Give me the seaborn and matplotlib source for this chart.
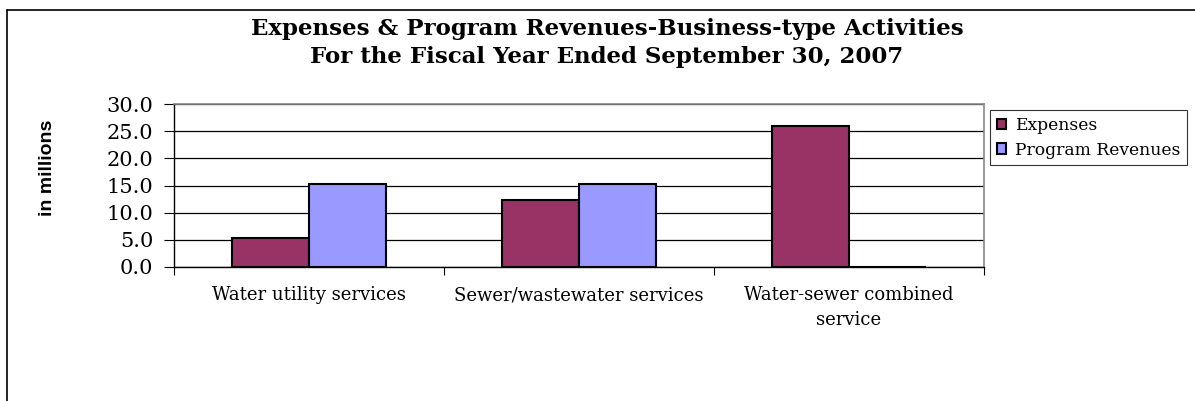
import numpy as np
import pandas as pd
import matplotlib
matplotlib.use("Agg")
import matplotlib.pyplot as plt
import seaborn as sns
from matplotlib.lines import Line2D

categories = ["Water utility services", "Sewer/wastewater services",
              "Water-sewer combined\nservice"]
expenses = [5.3, 12.3, 26.0]
revenues = [15.3, 15.3, 0.0]
series = ["Expenses", "Program Revenues"]
colors = ["#993366", "#9999FF"]

df = pd.DataFrame({
    "category": categories * 2,
    "value": expenses + revenues,
    "series": [series[0]] * 3 + [series[1]] * 3,
})

sns.set_style("white")
plt.rcParams["font.family"] = ["DejaVu Serif"]
plt.rcParams["text.color"] = "black"
plt.rcParams["xtick.color"] = "black"
plt.rcParams["ytick.color"] = "black"

fig = plt.figure(figsize=(11.95, 4.01), dpi=100)
ax = fig.add_axes([174 / 1195, 1 - 267 / 401, (984 - 174) / 1195, (267 - 104) / 401])

sns.barplot(data=df, x="category", y="value", hue="series", order=categories,
            hue_order=series, palette=colors, errorbar=None, width=0.574,
            edgecolor="black", linewidth=1.5, saturation=1, ax=ax, zorder=3)

ax.set_ylim(0, 30)
ax.set_xlim(-0.5, 2.5)
ax.set_yticks(np.arange(0, 31, 5))
ax.yaxis.set_major_formatter(matplotlib.ticker.FormatStrFormatter("%.1f"))
ax.yaxis.grid(True, color="black", linewidth=0.9, zorder=0)
ax.set_axisbelow(True)
ax.tick_params(axis="y", labelsize=15, length=7, width=0.8, direction="out",
               left=True, pad=8, color="black", labelcolor="black")
ax.tick_params(axis="x", which="major", length=0, labelsize=13, pad=14,
               labelcolor="black")
for lbl in ax.get_xticklabels():
    lbl.set_linespacing(1.45)
ax.set_xticks([-0.5, 0.5, 1.5, 2.5], minor=True)
ax.tick_params(axis="x", which="minor", length=6, width=0.8, bottom=True,
               direction="out", color="black")
ax.set_xlabel("")
ax.set_ylabel("")

for side in ["top", "right"]:
    ax.spines[side].set_color("#888888")
    ax.spines[side].set_linewidth(1.2)
for side in ["left", "bottom"]:
    ax.spines[side].set_color("black")
    ax.spines[side].set_linewidth(1.0)

fig.text(48 / 1195, 1 - 168 / 401, "in millions", rotation=90, ha="center",
         va="center", fontsize=14, fontweight="bold", color="black",
         family=["Liberation Sans", "DejaVu Sans"])

fig.text(607 / 1195, 1 - 29 / 401, "Expenses & Program Revenues-Business-type Activities",
         ha="center", va="center", fontsize=16.5, fontweight="bold", color="black")
fig.text(607 / 1195, 1 - 57 / 401, "For the Fiscal Year Ended September 30, 2007",
         ha="center", va="center", fontsize=16.5, fontweight="bold", color="black")

leg = ax.legend(loc="upper left", bbox_to_anchor=(990 / 1195, 1 - 110 / 401),
                bbox_transform=fig.transFigure, frameon=True, fancybox=False,
                edgecolor="black", fontsize=12.3, handlelength=0.55,
                handleheight=0.55, handletextpad=0.5, borderpad=0.4,
                labelspacing=0.45, borderaxespad=0)
leg.get_frame().set_linewidth(0.8)
for t in leg.get_texts():
    t.set_color("black")

# outer chart border
fig.add_artist(Line2D([7 / 1195, 7 / 1195], [0, 1 - 10 / 401], color="black",
                      linewidth=1.2, transform=fig.transFigure))
fig.add_artist(Line2D([7 / 1195, 1], [1 - 10 / 401, 1 - 10 / 401], color="black",
                      linewidth=1.2, transform=fig.transFigure))

fig.savefig("out.png", dpi=100)
